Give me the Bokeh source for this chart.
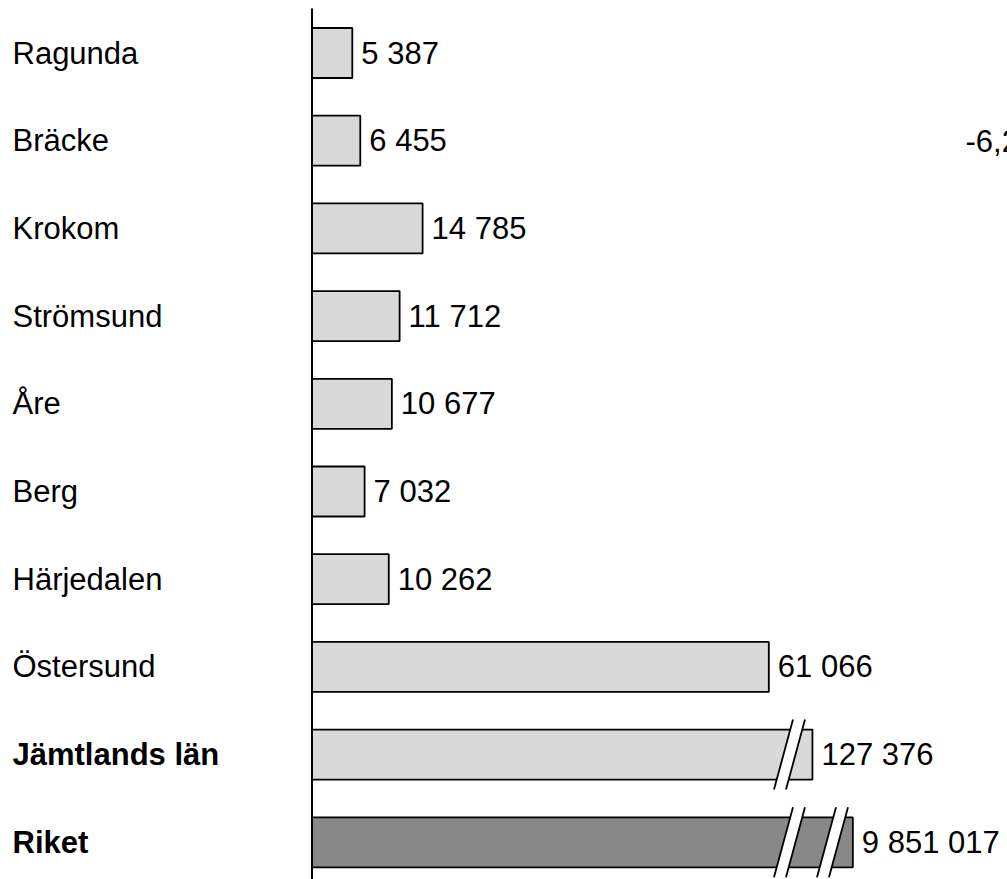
from bokeh.plotting import figure
from bokeh.models import Range1d, ColumnDataSource
from bokeh.core.properties import value
from bokeh.embed import file_html
from bokeh.resources import INLINE

# Population per municipality, county and country
categories = ["Ragunda", "Bräcke", "Krokom", "Strömsund", "Åre", "Berg",
              "Härjedalen", "Östersund", "Jämtlands län", "Riket"]
population = [5387, 6455, 14785, 11712, 10677, 7032, 10262, 61066, 127376, 9851017]
bold_rows = ["Jämtlands län", "Riket"]
side_note = "-6,2"
side_note_row = "Bräcke"

# Bars that are too long are cut off at a display length and marked with breaks
display_end = {"Jämtlands län": 66900, "Riket": 72300}
break_centres = {"Jämtlands län": [63830], "Riket": [63830, 69580]}

LIGHT = "#d9d9d9"
DARK = "#888888"
FONT = "Liberation Sans"

X_PER_PX = 133.68          # data units per screen pixel on the value axis
ROW_PX = 87.7              # pixels between rows
BAR_H = 50 / ROW_PX

p = figure(width=1007, height=879, output_backend="svg", toolbar_location=None,
           x_range=Range1d(-311.5 * X_PER_PX, (1007 - 311.5) * X_PER_PX),
           y_range=Range1d((879 - 52.5) / ROW_PX, -52.5 / ROW_PX),
           min_border=0)
p.axis.visible = False
p.grid.visible = False
p.outline_line_color = None
p.background_fill_color = "white"
p.border_fill_color = "white"

ys = list(range(len(categories)))
rights = [display_end.get(c, v) for c, v in zip(categories, population)]
fills = [DARK if c == "Riket" else LIGHT for c in categories]

bars = ColumnDataSource(dict(y=ys, right=rights, fill=fills))
p.hbar(y="y", left=0, right="right", height=BAR_H, source=bars,
       fill_color="fill", line_color="black", line_width=1.8)

# Axis line at zero
p.segment(x0=[0], y0=[-0.507], x1=[0], y1=[9.5], line_color="black", line_width=2)

# Break marks: white slanted band with black edges
half_w = 6 * X_PER_PX
lean = 9.5 * X_PER_PX
half_h = 35 / ROW_PX
bx, by = [], []
ex0, ey0, ex1, ey1 = [], [], [], []
for c, centres in break_centres.items():
    yc = categories.index(c)
    for xc in centres:
        top, bot = yc - half_h, yc + half_h
        bx.append([xc - half_w - lean, xc + half_w - lean, xc + half_w + lean, xc - half_w + lean])
        by.append([bot, bot, top, top])
        for s in (-half_w, half_w):
            ex0.append(xc + s - lean); ey0.append(bot)
            ex1.append(xc + s + lean); ey1.append(top)
p.patches(xs=bx, ys=by, fill_color="white", line_color=None)
p.segment(x0=ex0, y0=ey0, x1=ex1, y1=ey1, line_color="black", line_width=1.8)

# Value labels to the right of each bar
def fmt(v):
    return f"{v:,}".replace(",", " ")

labels = ColumnDataSource(dict(x=[r + 9 * X_PER_PX for r in rights], y=ys,
                               t=[fmt(v) for v in population]))
p.text(x="x", y="y", text="t", source=labels, text_font=value(FONT),
       text_font_size="31px", text_baseline="middle", text_align="left",
       text_color="black")

# Category labels on the left
name_x = -311.5 * X_PER_PX + 12 * X_PER_PX
normal = [(c, i) for i, c in enumerate(categories) if c not in bold_rows]
strong = [(c, i) for i, c in enumerate(categories) if c in bold_rows]
p.text(x=[name_x] * len(normal), y=[i for _, i in normal], text=[c for c, _ in normal],
       text_font=value(FONT), text_font_size="31px", text_baseline="middle",
       text_align="left", text_color="black")
p.text(x=[name_x] * len(strong), y=[i for _, i in strong], text=[c for c, _ in strong],
       text_font=value(FONT), text_font_size="31px", text_font_style="bold",
       text_baseline="middle", text_align="left", text_color="black")

# Side note at the right edge
p.text(x=[(965 - 311.5) * X_PER_PX], y=[categories.index(side_note_row)], text=[side_note],
       text_font=value(FONT), text_font_size="31px", text_baseline="middle",
       text_align="left", text_color="black")

open("out.html", "w").write(file_html(p, INLINE))
